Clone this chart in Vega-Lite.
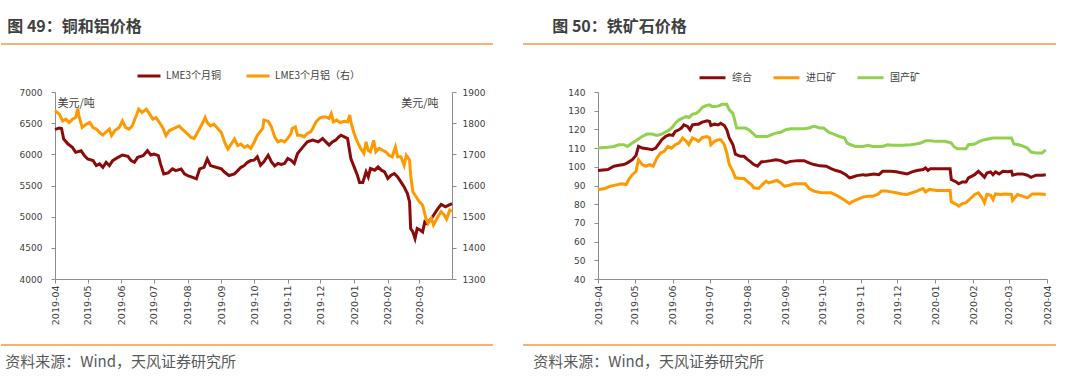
{
  "$schema": "https://vega.github.io/schema/vega-lite/v6.json",
  "background": "white",
  "padding": {"left": 0, "top": 19, "right": 0, "bottom": 0},
  "config": {
    "view": {"stroke": null},
    "font": "Noto Sans CJK SC",
    "axis": {"grid": false, "labelFont": "DejaVu Sans", "labelColor": "#404040", "domainColor": "#8c8c8c", "tickColor": "#8c8c8c", "domainWidth": 1, "tickWidth": 1, "tickSize": 4},
    "title": {"font": "Noto Sans CJK SC"}
  },
  "resolve": {"scale": {"color": "independent", "x": "independent", "y": "independent"}, "legend": {"color": "independent"}},
  "datasets": {
    "metals": [
      {"s":"LME3个月铜","d":"2019-04-01","v":6400},{"s":"LME3个月铜","d":"2019-04-05","v":6420},{"s":"LME3个月铜","d":"2019-04-07","v":6415},{"s":"LME3个月铜","d":"2019-04-09","v":6245},{"s":"LME3个月铜","d":"2019-04-13","v":6165},{"s":"LME3个月铜","d":"2019-04-17","v":6112},{"s":"LME3个月铜","d":"2019-04-20","v":6032},{"s":"LME3个月铜","d":"2019-04-25","v":6058},{"s":"LME3个月铜","d":"2019-04-28","v":5979},
      {"s":"LME3个月铜","d":"2019-05-01","v":5925},{"s":"LME3个月铜","d":"2019-05-06","v":5899},{"s":"LME3个月铜","d":"2019-05-09","v":5819},{"s":"LME3个月铜","d":"2019-05-12","v":5846},{"s":"LME3个月铜","d":"2019-05-15","v":5792},{"s":"LME3个月铜","d":"2019-05-18","v":5872},{"s":"LME3个月铜","d":"2019-05-21","v":5819},{"s":"LME3个月铜","d":"2019-05-24","v":5899},{"s":"LME3个月铜","d":"2019-05-29","v":5952},
      {"s":"LME3个月铜","d":"2019-06-02","v":5989},{"s":"LME3个月铜","d":"2019-06-07","v":5968},{"s":"LME3个月铜","d":"2019-06-10","v":5899},{"s":"LME3个月铜","d":"2019-06-13","v":5872},{"s":"LME3个月铜","d":"2019-06-16","v":5952},{"s":"LME3个月铜","d":"2019-06-21","v":5979},{"s":"LME3个月铜","d":"2019-06-25","v":6058},{"s":"LME3个月铜","d":"2019-06-28","v":5989},
      {"s":"LME3个月铜","d":"2019-07-01","v":6005},{"s":"LME3个月铜","d":"2019-07-05","v":5979},{"s":"LME3个月铜","d":"2019-07-07","v":5846},{"s":"LME3个月铜","d":"2019-07-10","v":5686},{"s":"LME3个月铜","d":"2019-07-14","v":5702},{"s":"LME3个月铜","d":"2019-07-18","v":5766},{"s":"LME3个月铜","d":"2019-07-21","v":5739},{"s":"LME3个月铜","d":"2019-07-26","v":5766},{"s":"LME3个月铜","d":"2019-07-29","v":5686},
      {"s":"LME3个月铜","d":"2019-08-01","v":5660},{"s":"LME3个月铜","d":"2019-08-05","v":5633},{"s":"LME3个月铜","d":"2019-08-09","v":5606},{"s":"LME3个月铜","d":"2019-08-12","v":5766},{"s":"LME3个月铜","d":"2019-08-16","v":5792},{"s":"LME3个月铜","d":"2019-08-19","v":5925},{"s":"LME3个月铜","d":"2019-08-22","v":5819},{"s":"LME3个月铜","d":"2019-08-27","v":5792},
      {"s":"LME3个月铜","d":"2019-09-01","v":5766},{"s":"LME3个月铜","d":"2019-09-04","v":5712},{"s":"LME3个月铜","d":"2019-09-08","v":5660},{"s":"LME3个月铜","d":"2019-09-13","v":5686},{"s":"LME3个月铜","d":"2019-09-16","v":5739},{"s":"LME3个月铜","d":"2019-09-19","v":5792},{"s":"LME3个月铜","d":"2019-09-22","v":5819},{"s":"LME3个月铜","d":"2019-09-25","v":5872},{"s":"LME3个月铜","d":"2019-09-28","v":5900},
      {"s":"LME3个月铜","d":"2019-10-01","v":5906},{"s":"LME3个月铜","d":"2019-10-04","v":5960},{"s":"LME3个月铜","d":"2019-10-07","v":5826},{"s":"LME3个月铜","d":"2019-10-10","v":5879},{"s":"LME3个月铜","d":"2019-10-14","v":5986},{"s":"LME3个月铜","d":"2019-10-17","v":5879},{"s":"LME3个月铜","d":"2019-10-20","v":5815},{"s":"LME3个月铜","d":"2019-10-23","v":5853},{"s":"LME3个月铜","d":"2019-10-26","v":5837},{"s":"LME3个月铜","d":"2019-10-29","v":5853},
      {"s":"LME3个月铜","d":"2019-11-01","v":5933},{"s":"LME3个月铜","d":"2019-11-04","v":5906},{"s":"LME3个月铜","d":"2019-11-07","v":5853},{"s":"LME3个月铜","d":"2019-11-10","v":6013},{"s":"LME3个月铜","d":"2019-11-15","v":6120},{"s":"LME3个月铜","d":"2019-11-19","v":6200},{"s":"LME3个月铜","d":"2019-11-24","v":6227},{"s":"LME3个月铜","d":"2019-11-29","v":6200},
      {"s":"LME3个月铜","d":"2019-12-03","v":6254},{"s":"LME3个月铜","d":"2019-12-06","v":6200},{"s":"LME3个月铜","d":"2019-12-09","v":6147},{"s":"LME3个月铜","d":"2019-12-12","v":6200},{"s":"LME3个月铜","d":"2019-12-15","v":6227},{"s":"LME3个月铜","d":"2019-12-18","v":6281},{"s":"LME3个月铜","d":"2019-12-20","v":6307},{"s":"LME3个月铜","d":"2019-12-23","v":6281},{"s":"LME3个月铜","d":"2019-12-26","v":6254},{"s":"LME3个月铜","d":"2019-12-29","v":5933},
      {"s":"LME3个月铜","d":"2020-01-01","v":5799},{"s":"LME3个月铜","d":"2020-01-04","v":5665},{"s":"LME3个月铜","d":"2020-01-06","v":5548},{"s":"LME3个月铜","d":"2020-01-09","v":5548},{"s":"LME3个月铜","d":"2020-01-12","v":5719},{"s":"LME3个月铜","d":"2020-01-14","v":5639},{"s":"LME3个月铜","d":"2020-01-16","v":5772},{"s":"LME3个月铜","d":"2020-01-20","v":5746},{"s":"LME3个月铜","d":"2020-01-23","v":5799},{"s":"LME3个月铜","d":"2020-01-26","v":5746},{"s":"LME3个月铜","d":"2020-01-29","v":5719},
      {"s":"LME3个月铜","d":"2020-02-01","v":5612},{"s":"LME3个月铜","d":"2020-02-04","v":5665},{"s":"LME3个月铜","d":"2020-02-07","v":5692},{"s":"LME3个月铜","d":"2020-02-10","v":5639},{"s":"LME3个月铜","d":"2020-02-13","v":5558},{"s":"LME3个月铜","d":"2020-02-16","v":5478},{"s":"LME3个月铜","d":"2020-02-19","v":5371},{"s":"LME3个月铜","d":"2020-02-21","v":5237},{"s":"LME3个月铜","d":"2020-02-22","v":4809},{"s":"LME3个月铜","d":"2020-02-24","v":4756},{"s":"LME3个月铜","d":"2020-02-26","v":4649},{"s":"LME3个月铜","d":"2020-02-28","v":4809},
      {"s":"LME3个月铜","d":"2020-03-02","v":4783},{"s":"LME3个月铜","d":"2020-03-04","v":4756},{"s":"LME3个月铜","d":"2020-03-06","v":4916},{"s":"LME3个月铜","d":"2020-03-08","v":4890},{"s":"LME3个月铜","d":"2020-03-12","v":4970},{"s":"LME3个月铜","d":"2020-03-14","v":5023},{"s":"LME3个月铜","d":"2020-03-18","v":5130},{"s":"LME3个月铜","d":"2020-03-21","v":5195},{"s":"LME3个月铜","d":"2020-03-25","v":5157},{"s":"LME3个月铜","d":"2020-03-28","v":5184},{"s":"LME3个月铜","d":"2020-03-31","v":5210},

      {"s":"LME3个月铝（右）","d":"2019-04-01","v":1840},{"s":"LME3个月铝（右）","d":"2019-04-05","v":1829},{"s":"LME3个月铝（右）","d":"2019-04-08","v":1807},{"s":"LME3个月铝（右）","d":"2019-04-11","v":1813},{"s":"LME3个月铝（右）","d":"2019-04-14","v":1802},{"s":"LME3个月铝（右）","d":"2019-04-17","v":1813},{"s":"LME3个月铝（右）","d":"2019-04-20","v":1818},{"s":"LME3个月铝（右）","d":"2019-04-22","v":1847},{"s":"LME3个月铝（右）","d":"2019-04-23","v":1823},{"s":"LME3个月铝（右）","d":"2019-04-26","v":1786},{"s":"LME3个月铝（右）","d":"2019-04-30","v":1797},
      {"s":"LME3个月铝（右）","d":"2019-05-03","v":1802},{"s":"LME3个月铝（右）","d":"2019-05-06","v":1786},{"s":"LME3个月铝（右）","d":"2019-05-09","v":1781},{"s":"LME3个月铝（右）","d":"2019-05-12","v":1770},{"s":"LME3个月铝（右）","d":"2019-05-15","v":1762},{"s":"LME3个月铝（右）","d":"2019-05-18","v":1772},{"s":"LME3个月铝（右）","d":"2019-05-21","v":1781},{"s":"LME3个月铝（右）","d":"2019-05-23","v":1760},{"s":"LME3个月铝（右）","d":"2019-05-26","v":1776},{"s":"LME3个月铝（右）","d":"2019-05-30","v":1786},
      {"s":"LME3个月铝（右）","d":"2019-06-02","v":1807},{"s":"LME3个月铝（右）","d":"2019-06-05","v":1786},{"s":"LME3个月铝（右）","d":"2019-06-08","v":1781},{"s":"LME3个月铝（右）","d":"2019-06-11","v":1791},{"s":"LME3个月铝（右）","d":"2019-06-14","v":1818},{"s":"LME3个月铝（右）","d":"2019-06-17","v":1845},{"s":"LME3个月铝（右）","d":"2019-06-20","v":1834},{"s":"LME3个月铝（右）","d":"2019-06-24","v":1845},{"s":"LME3个月铝（右）","d":"2019-06-27","v":1829},{"s":"LME3个月铝（右）","d":"2019-06-30","v":1813},
      {"s":"LME3个月铝（右）","d":"2019-07-03","v":1818},{"s":"LME3个月铝（右）","d":"2019-07-06","v":1802},{"s":"LME3个月铝（右）","d":"2019-07-09","v":1786},{"s":"LME3个月铝（右）","d":"2019-07-12","v":1760},{"s":"LME3个月铝（右）","d":"2019-07-15","v":1776},{"s":"LME3个月铝（右）","d":"2019-07-18","v":1781},{"s":"LME3个月铝（右）","d":"2019-07-21","v":1786},{"s":"LME3个月铝（右）","d":"2019-07-24","v":1791},{"s":"LME3个月铝（右）","d":"2019-07-27","v":1781},
      {"s":"LME3个月铝（右）","d":"2019-08-01","v":1765},{"s":"LME3个月铝（右）","d":"2019-08-04","v":1754},{"s":"LME3个月铝（右）","d":"2019-08-07","v":1751},{"s":"LME3个月铝（右）","d":"2019-08-10","v":1770},{"s":"LME3个月铝（右）","d":"2019-08-15","v":1802},{"s":"LME3个月铝（右）","d":"2019-08-17","v":1818},{"s":"LME3个月铝（右）","d":"2019-08-19","v":1802},{"s":"LME3个月铝（右）","d":"2019-08-22","v":1791},{"s":"LME3个月铝（右）","d":"2019-08-25","v":1797},{"s":"LME3个月铝（右）","d":"2019-08-29","v":1781},
      {"s":"LME3个月铝（右）","d":"2019-09-01","v":1770},{"s":"LME3个月铝（右）","d":"2019-09-04","v":1738},{"s":"LME3个月铝（右）","d":"2019-09-07","v":1717},{"s":"LME3个月铝（右）","d":"2019-09-10","v":1733},{"s":"LME3个月铝（右）","d":"2019-09-13","v":1749},{"s":"LME3个月铝（右）","d":"2019-09-16","v":1728},{"s":"LME3个月铝（右）","d":"2019-09-19","v":1733},{"s":"LME3个月铝（右）","d":"2019-09-22","v":1722},{"s":"LME3个月铝（右）","d":"2019-09-25","v":1728},{"s":"LME3个月铝（右）","d":"2019-09-28","v":1719},
      {"s":"LME3个月铝（右）","d":"2019-10-01","v":1738},{"s":"LME3个月铝（右）","d":"2019-10-04","v":1761},{"s":"LME3个月铝（右）","d":"2019-10-09","v":1783},{"s":"LME3个月铝（右）","d":"2019-10-10","v":1810},{"s":"LME3个月铝（右）","d":"2019-10-14","v":1806},{"s":"LME3个月铝（右）","d":"2019-10-17","v":1788},{"s":"LME3个月铝（右）","d":"2019-10-20","v":1756},{"s":"LME3个月铝（右）","d":"2019-10-23","v":1740},{"s":"LME3个月铝（右）","d":"2019-10-26","v":1745},{"s":"LME3个月铝（右）","d":"2019-10-29","v":1740},
      {"s":"LME3个月铝（右）","d":"2019-11-01","v":1751},{"s":"LME3个月铝（右）","d":"2019-11-04","v":1767},{"s":"LME3个月铝（右）","d":"2019-11-05","v":1783},{"s":"LME3个月铝（右）","d":"2019-11-08","v":1788},{"s":"LME3个月铝（右）","d":"2019-11-10","v":1761},{"s":"LME3个月铝（右）","d":"2019-11-13","v":1761},{"s":"LME3个月铝（右）","d":"2019-11-16","v":1756},{"s":"LME3个月铝（右）","d":"2019-11-19","v":1767},{"s":"LME3个月铝（右）","d":"2019-11-22","v":1772},{"s":"LME3个月铝（右）","d":"2019-11-24","v":1783},{"s":"LME3个月铝（右）","d":"2019-11-27","v":1804},{"s":"LME3个月铝（右）","d":"2019-11-30","v":1815},
      {"s":"LME3个月铝（右）","d":"2019-12-03","v":1820},{"s":"LME3个月铝（右）","d":"2019-12-06","v":1820},{"s":"LME3个月铝（右）","d":"2019-12-09","v":1815},{"s":"LME3个月铝（右）","d":"2019-12-11","v":1831},{"s":"LME3个月铝（右）","d":"2019-12-13","v":1804},{"s":"LME3个月铝（右）","d":"2019-12-16","v":1810},{"s":"LME3个月铝（右）","d":"2019-12-19","v":1802},{"s":"LME3个月铝（右）","d":"2019-12-23","v":1806},{"s":"LME3个月铝（右）","d":"2019-12-26","v":1804},{"s":"LME3个月铝（右）","d":"2019-12-28","v":1826},{"s":"LME3个月铝（右）","d":"2019-12-29","v":1804},
      {"s":"LME3个月铝（右）","d":"2020-01-01","v":1767},{"s":"LME3个月铝（右）","d":"2020-01-04","v":1740},{"s":"LME3个月铝（右）","d":"2020-01-07","v":1719},{"s":"LME3个月铝（右）","d":"2020-01-10","v":1703},{"s":"LME3个月铝（右）","d":"2020-01-12","v":1740},{"s":"LME3个月铝（右）","d":"2020-01-14","v":1713},{"s":"LME3个月铝（右）","d":"2020-01-16","v":1708},{"s":"LME3个月铝（右）","d":"2020-01-19","v":1745},{"s":"LME3个月铝（右）","d":"2020-01-21","v":1708},{"s":"LME3个月铝（右）","d":"2020-01-24","v":1719},{"s":"LME3个月铝（右）","d":"2020-01-27","v":1713},{"s":"LME3个月铝（右）","d":"2020-01-30","v":1708},
      {"s":"LME3个月铝（右）","d":"2020-02-02","v":1697},{"s":"LME3个月铝（右）","d":"2020-02-05","v":1692},{"s":"LME3个月铝（右）","d":"2020-02-08","v":1724},{"s":"LME3个月铝（右）","d":"2020-02-10","v":1692},{"s":"LME3个月铝（右）","d":"2020-02-13","v":1692},{"s":"LME3个月铝（右）","d":"2020-02-16","v":1665},{"s":"LME3个月铝（右）","d":"2020-02-18","v":1697},{"s":"LME3个月铝（右）","d":"2020-02-21","v":1681},{"s":"LME3个月铝（右）","d":"2020-02-22","v":1633},{"s":"LME3个月铝（右）","d":"2020-02-24","v":1580},{"s":"LME3个月铝（右）","d":"2020-02-27","v":1564},
      {"s":"LME3个月铝（右）","d":"2020-03-01","v":1548},{"s":"LME3个月铝（右）","d":"2020-03-04","v":1537},{"s":"LME3个月铝（右）","d":"2020-03-07","v":1494},{"s":"LME3个月铝（右）","d":"2020-03-09","v":1478},{"s":"LME3个月铝（右）","d":"2020-03-12","v":1494},{"s":"LME3个月铝（右）","d":"2020-03-14","v":1473},{"s":"LME3个月铝（右）","d":"2020-03-18","v":1499},{"s":"LME3个月铝（右）","d":"2020-03-21","v":1516},{"s":"LME3个月铝（右）","d":"2020-03-24","v":1505},{"s":"LME3个月铝（右）","d":"2020-03-26","v":1492},{"s":"LME3个月铝（右）","d":"2020-03-29","v":1521},{"s":"LME3个月铝（右）","d":"2020-03-31","v":1518}
    ],
    "ore": [
      {"s":"综合","d":"2019-04-01","v":98.0},{"s":"综合","d":"2019-04-09","v":98.5},{"s":"综合","d":"2019-04-14","v":100.3},{"s":"综合","d":"2019-04-18","v":100.8},{"s":"综合","d":"2019-04-22","v":101.2},{"s":"综合","d":"2019-04-25","v":102.1},{"s":"综合","d":"2019-04-29","v":103.8},{"s":"综合","d":"2019-05-02","v":106.1},{"s":"综合","d":"2019-05-04","v":110.9},{"s":"综合","d":"2019-05-07","v":110.0},{"s":"综合","d":"2019-05-11","v":109.7},{"s":"综合","d":"2019-05-15","v":109.1},{"s":"综合","d":"2019-05-18","v":110.0},{"s":"综合","d":"2019-05-21","v":112.7},{"s":"综合","d":"2019-05-23","v":114.5},{"s":"综合","d":"2019-05-26","v":116.2},{"s":"综合","d":"2019-05-29","v":117.1},
      {"s":"综合","d":"2019-06-01","v":116.8},{"s":"综合","d":"2019-06-03","v":118.9},{"s":"综合","d":"2019-06-06","v":119.8},{"s":"综合","d":"2019-06-08","v":120.7},{"s":"综合","d":"2019-06-10","v":122.4},{"s":"综合","d":"2019-06-13","v":121.6},{"s":"综合","d":"2019-06-15","v":119.8},{"s":"综合","d":"2019-06-17","v":122.4},{"s":"综合","d":"2019-06-20","v":122.8},{"s":"综合","d":"2019-06-22","v":122.8},{"s":"综合","d":"2019-06-25","v":123.9},{"s":"综合","d":"2019-06-29","v":124.6},
      {"s":"综合","d":"2019-07-01","v":124.2},{"s":"综合","d":"2019-07-02","v":122.1},{"s":"综合","d":"2019-07-05","v":122.8},{"s":"综合","d":"2019-07-08","v":122.4},{"s":"综合","d":"2019-07-10","v":123.3},{"s":"综合","d":"2019-07-13","v":122.1},{"s":"综合","d":"2019-07-15","v":119.8},{"s":"综合","d":"2019-07-17","v":115.4},{"s":"综合","d":"2019-07-20","v":111.8},{"s":"综合","d":"2019-07-22","v":106.8},{"s":"综合","d":"2019-07-26","v":105.6},{"s":"综合","d":"2019-07-29","v":105.6},
      {"s":"综合","d":"2019-08-01","v":103.8},{"s":"综合","d":"2019-08-03","v":102.9},{"s":"综合","d":"2019-08-06","v":101.2},{"s":"综合","d":"2019-08-09","v":100.3},{"s":"综合","d":"2019-08-12","v":102.6},{"s":"综合","d":"2019-08-16","v":102.9},{"s":"综合","d":"2019-08-20","v":103.3},{"s":"综合","d":"2019-08-24","v":103.8},{"s":"综合","d":"2019-08-28","v":103.3},
      {"s":"综合","d":"2019-09-01","v":102.1},{"s":"综合","d":"2019-09-05","v":102.9},{"s":"综合","d":"2019-09-11","v":103.3},{"s":"综合","d":"2019-09-16","v":103.3},{"s":"综合","d":"2019-09-20","v":102.1},{"s":"综合","d":"2019-09-24","v":101.2},{"s":"综合","d":"2019-09-29","v":100.5},
      {"s":"综合","d":"2019-10-04","v":100.3},{"s":"综合","d":"2019-10-08","v":99.0},{"s":"综合","d":"2019-10-12","v":98.0},{"s":"综合","d":"2019-10-16","v":97.3},{"s":"综合","d":"2019-10-20","v":95.8},{"s":"综合","d":"2019-10-23","v":94.1},{"s":"综合","d":"2019-10-25","v":94.4},{"s":"综合","d":"2019-10-29","v":95.3},
      {"s":"综合","d":"2019-11-03","v":95.8},{"s":"综合","d":"2019-11-05","v":95.5},{"s":"综合","d":"2019-11-08","v":95.8},{"s":"综合","d":"2019-11-12","v":96.2},{"s":"综合","d":"2019-11-16","v":95.8},{"s":"综合","d":"2019-11-19","v":97.6},{"s":"综合","d":"2019-11-26","v":97.6},{"s":"综合","d":"2019-11-30","v":97.3},
      {"s":"综合","d":"2019-12-05","v":96.7},{"s":"综合","d":"2019-12-09","v":96.2},{"s":"综合","d":"2019-12-13","v":97.3},{"s":"综合","d":"2019-12-17","v":98.0},{"s":"综合","d":"2019-12-22","v":98.5},{"s":"综合","d":"2019-12-24","v":99.4},{"s":"综合","d":"2019-12-26","v":98.0},{"s":"综合","d":"2019-12-28","v":99.0},
      {"s":"综合","d":"2020-01-04","v":99.0},{"s":"综合","d":"2020-01-13","v":99.0},{"s":"综合","d":"2020-01-14","v":93.2},{"s":"综合","d":"2020-01-18","v":91.9},{"s":"综合","d":"2020-01-20","v":90.9},{"s":"综合","d":"2020-01-23","v":91.9},{"s":"综合","d":"2020-01-26","v":91.9},{"s":"综合","d":"2020-01-28","v":94.1},
      {"s":"综合","d":"2020-02-02","v":95.8},{"s":"综合","d":"2020-02-05","v":97.6},{"s":"综合","d":"2020-02-08","v":95.8},{"s":"综合","d":"2020-02-10","v":94.4},{"s":"综合","d":"2020-02-12","v":96.7},{"s":"综合","d":"2020-02-15","v":97.3},{"s":"综合","d":"2020-02-17","v":95.8},{"s":"综合","d":"2020-02-19","v":97.3},{"s":"综合","d":"2020-02-22","v":96.2},{"s":"综合","d":"2020-02-25","v":97.6},{"s":"综合","d":"2020-02-29","v":97.3},
      {"s":"综合","d":"2020-03-03","v":97.6},{"s":"综合","d":"2020-03-04","v":95.5},{"s":"综合","d":"2020-03-08","v":96.2},{"s":"综合","d":"2020-03-12","v":96.2},{"s":"综合","d":"2020-03-16","v":95.5},{"s":"综合","d":"2020-03-19","v":94.4},{"s":"综合","d":"2020-03-23","v":95.5},{"s":"综合","d":"2020-03-28","v":95.5},{"s":"综合","d":"2020-03-31","v":95.8},

      {"s":"进口矿","d":"2019-04-01","v":87.9},{"s":"进口矿","d":"2019-04-06","v":88.2},{"s":"进口矿","d":"2019-04-11","v":89.6},{"s":"进口矿","d":"2019-04-15","v":90.2},{"s":"进口矿","d":"2019-04-20","v":90.9},{"s":"进口矿","d":"2019-04-24","v":90.5},{"s":"进口矿","d":"2019-04-26","v":93.2},{"s":"进口矿","d":"2019-04-29","v":95.8},{"s":"进口矿","d":"2019-05-02","v":97.6},{"s":"进口矿","d":"2019-05-04","v":103.8},{"s":"进口矿","d":"2019-05-07","v":101.2},{"s":"进口矿","d":"2019-05-10","v":100.3},{"s":"进口矿","d":"2019-05-13","v":101.2},{"s":"进口矿","d":"2019-05-16","v":100.3},{"s":"进口矿","d":"2019-05-19","v":104.7},{"s":"进口矿","d":"2019-05-22","v":107.4},{"s":"进口矿","d":"2019-05-25","v":108.3},{"s":"进口矿","d":"2019-05-28","v":110.9},{"s":"进口矿","d":"2019-05-31","v":110.0},
      {"s":"进口矿","d":"2019-06-03","v":111.8},{"s":"进口矿","d":"2019-06-06","v":112.7},{"s":"进口矿","d":"2019-06-09","v":115.4},{"s":"进口矿","d":"2019-06-12","v":113.6},{"s":"进口矿","d":"2019-06-14","v":111.8},{"s":"进口矿","d":"2019-06-17","v":115.4},{"s":"进口矿","d":"2019-06-20","v":114.5},{"s":"进口矿","d":"2019-06-22","v":113.6},{"s":"进口矿","d":"2019-06-25","v":115.7},{"s":"进口矿","d":"2019-06-29","v":116.2},
      {"s":"进口矿","d":"2019-07-01","v":115.4},{"s":"进口矿","d":"2019-07-02","v":111.8},{"s":"进口矿","d":"2019-07-05","v":113.6},{"s":"进口矿","d":"2019-07-08","v":114.5},{"s":"进口矿","d":"2019-07-10","v":114.5},{"s":"进口矿","d":"2019-07-13","v":111.8},{"s":"进口矿","d":"2019-07-15","v":107.4},{"s":"进口矿","d":"2019-07-17","v":101.2},{"s":"进口矿","d":"2019-07-20","v":97.6},{"s":"进口矿","d":"2019-07-22","v":94.1},{"s":"进口矿","d":"2019-07-26","v":93.7},{"s":"进口矿","d":"2019-07-29","v":93.7},
      {"s":"进口矿","d":"2019-08-01","v":92.0},{"s":"进口矿","d":"2019-08-04","v":90.5},{"s":"进口矿","d":"2019-08-06","v":88.8},{"s":"进口矿","d":"2019-08-10","v":88.4},{"s":"进口矿","d":"2019-08-13","v":90.5},{"s":"进口矿","d":"2019-08-16","v":92.3},{"s":"进口矿","d":"2019-08-18","v":91.4},{"s":"进口矿","d":"2019-08-21","v":92.0},{"s":"进口矿","d":"2019-08-25","v":92.7},{"s":"进口矿","d":"2019-08-28","v":91.4},{"s":"进口矿","d":"2019-08-31","v":89.6},
      {"s":"进口矿","d":"2019-09-04","v":90.2},{"s":"进口矿","d":"2019-09-08","v":90.9},{"s":"进口矿","d":"2019-09-13","v":90.9},{"s":"进口矿","d":"2019-09-17","v":90.9},{"s":"进口矿","d":"2019-09-20","v":88.4},{"s":"进口矿","d":"2019-09-24","v":87.0},{"s":"进口矿","d":"2019-09-29","v":86.3},
      {"s":"进口矿","d":"2019-10-04","v":86.1},{"s":"进口矿","d":"2019-10-08","v":86.1},{"s":"进口矿","d":"2019-10-12","v":84.9},{"s":"进口矿","d":"2019-10-16","v":83.4},{"s":"进口矿","d":"2019-10-20","v":81.7},{"s":"进口矿","d":"2019-10-23","v":80.3},{"s":"进口矿","d":"2019-10-25","v":81.3},{"s":"进口矿","d":"2019-10-29","v":82.5},
      {"s":"进口矿","d":"2019-11-03","v":83.8},{"s":"进口矿","d":"2019-11-07","v":84.3},{"s":"进口矿","d":"2019-11-11","v":84.3},{"s":"进口矿","d":"2019-11-15","v":85.2},{"s":"进口矿","d":"2019-11-18","v":87.0},{"s":"进口矿","d":"2019-11-22","v":87.0},{"s":"进口矿","d":"2019-11-26","v":86.6},{"s":"进口矿","d":"2019-11-30","v":86.1},
      {"s":"进口矿","d":"2019-12-05","v":85.5},{"s":"进口矿","d":"2019-12-09","v":85.2},{"s":"进口矿","d":"2019-12-13","v":86.1},{"s":"进口矿","d":"2019-12-17","v":87.0},{"s":"进口矿","d":"2019-12-20","v":87.9},{"s":"进口矿","d":"2019-12-22","v":88.4},{"s":"进口矿","d":"2019-12-24","v":86.6},{"s":"进口矿","d":"2019-12-27","v":87.9},
      {"s":"进口矿","d":"2020-01-02","v":87.3},{"s":"进口矿","d":"2020-01-13","v":87.3},{"s":"进口矿","d":"2020-01-14","v":81.3},{"s":"进口矿","d":"2020-01-18","v":79.9},{"s":"进口矿","d":"2020-01-20","v":79.0},{"s":"进口矿","d":"2020-01-23","v":80.3},{"s":"进口矿","d":"2020-01-26","v":80.8},{"s":"进口矿","d":"2020-01-28","v":82.0},
      {"s":"进口矿","d":"2020-02-02","v":85.2},{"s":"进口矿","d":"2020-02-05","v":86.1},{"s":"进口矿","d":"2020-02-08","v":83.4},{"s":"进口矿","d":"2020-02-10","v":80.8},{"s":"进口矿","d":"2020-02-12","v":85.2},{"s":"进口矿","d":"2020-02-15","v":84.9},{"s":"进口矿","d":"2020-02-17","v":82.5},{"s":"进口矿","d":"2020-02-19","v":85.5},{"s":"进口矿","d":"2020-02-23","v":85.2},{"s":"进口矿","d":"2020-02-27","v":85.5},
      {"s":"进口矿","d":"2020-03-03","v":85.2},{"s":"进口矿","d":"2020-03-04","v":82.0},{"s":"进口矿","d":"2020-03-08","v":85.2},{"s":"进口矿","d":"2020-03-12","v":84.3},{"s":"进口矿","d":"2020-03-16","v":83.4},{"s":"进口矿","d":"2020-03-20","v":85.5},{"s":"进口矿","d":"2020-03-26","v":85.5},{"s":"进口矿","d":"2020-03-31","v":85.2},

      {"s":"国产矿","d":"2019-04-01","v":110.0},{"s":"国产矿","d":"2019-04-09","v":110.4},{"s":"国产矿","d":"2019-04-14","v":110.9},{"s":"国产矿","d":"2019-04-18","v":111.8},{"s":"国产矿","d":"2019-04-22","v":111.8},{"s":"国产矿","d":"2019-04-25","v":110.9},{"s":"国产矿","d":"2019-04-29","v":112.7},{"s":"国产矿","d":"2019-05-03","v":114.5},{"s":"国产矿","d":"2019-05-07","v":116.2},{"s":"国产矿","d":"2019-05-11","v":117.5},{"s":"国产矿","d":"2019-05-15","v":117.5},{"s":"国产矿","d":"2019-05-19","v":116.8},{"s":"国产矿","d":"2019-05-23","v":117.5},{"s":"国产矿","d":"2019-05-28","v":119.3},{"s":"国产矿","d":"2019-05-31","v":120.7},
      {"s":"国产矿","d":"2019-06-03","v":123.3},{"s":"国产矿","d":"2019-06-06","v":125.1},{"s":"国产矿","d":"2019-06-09","v":126.0},{"s":"国产矿","d":"2019-06-12","v":126.9},{"s":"国产矿","d":"2019-06-14","v":126.3},{"s":"国产矿","d":"2019-06-17","v":128.1},{"s":"国产矿","d":"2019-06-20","v":128.6},{"s":"国产矿","d":"2019-06-22","v":129.5},{"s":"国产矿","d":"2019-06-25","v":131.7},{"s":"国产矿","d":"2019-06-28","v":132.7},
      {"s":"国产矿","d":"2019-07-01","v":133.1},{"s":"国产矿","d":"2019-07-03","v":132.2},{"s":"国产矿","d":"2019-07-06","v":132.2},{"s":"国产矿","d":"2019-07-09","v":132.7},{"s":"国产矿","d":"2019-07-11","v":133.4},{"s":"国产矿","d":"2019-07-15","v":133.4},{"s":"国产矿","d":"2019-07-17","v":130.4},{"s":"国产矿","d":"2019-07-20","v":128.6},{"s":"国产矿","d":"2019-07-21","v":126.0},{"s":"国产矿","d":"2019-07-23","v":120.7},{"s":"国产矿","d":"2019-07-26","v":120.7},{"s":"国产矿","d":"2019-07-30","v":120.7},
      {"s":"国产矿","d":"2019-08-02","v":119.8},{"s":"国产矿","d":"2019-08-05","v":118.0},{"s":"国产矿","d":"2019-08-08","v":116.2},{"s":"国产矿","d":"2019-08-12","v":116.2},{"s":"国产矿","d":"2019-08-17","v":116.2},{"s":"国产矿","d":"2019-08-20","v":117.1},{"s":"国产矿","d":"2019-08-24","v":118.0},{"s":"国产矿","d":"2019-08-28","v":118.5},
      {"s":"国产矿","d":"2019-09-01","v":119.8},{"s":"国产矿","d":"2019-09-05","v":120.3},{"s":"国产矿","d":"2019-09-11","v":120.3},{"s":"国产矿","d":"2019-09-16","v":120.3},{"s":"国产矿","d":"2019-09-20","v":120.7},{"s":"国产矿","d":"2019-09-23","v":121.5},{"s":"国产矿","d":"2019-09-25","v":121.5},{"s":"国产矿","d":"2019-09-29","v":120.7},
      {"s":"国产矿","d":"2019-10-02","v":120.7},{"s":"国产矿","d":"2019-10-06","v":118.5},{"s":"国产矿","d":"2019-10-10","v":117.5},{"s":"国产矿","d":"2019-10-15","v":116.2},{"s":"国产矿","d":"2019-10-19","v":115.4},{"s":"国产矿","d":"2019-10-21","v":112.7},{"s":"国产矿","d":"2019-10-24","v":111.8},{"s":"国产矿","d":"2019-10-28","v":110.9},
      {"s":"国产矿","d":"2019-11-03","v":110.9},{"s":"国产矿","d":"2019-11-07","v":111.5},{"s":"国产矿","d":"2019-11-11","v":110.9},{"s":"国产矿","d":"2019-11-19","v":110.9},{"s":"国产矿","d":"2019-11-23","v":111.8},{"s":"国产矿","d":"2019-11-27","v":111.5},
      {"s":"国产矿","d":"2019-12-05","v":111.5},{"s":"国产矿","d":"2019-12-12","v":111.8},{"s":"国产矿","d":"2019-12-16","v":112.2},{"s":"国产矿","d":"2019-12-20","v":112.7},{"s":"国产矿","d":"2019-12-24","v":113.9},{"s":"国产矿","d":"2019-12-28","v":113.9},
      {"s":"国产矿","d":"2020-01-01","v":113.6},{"s":"国产矿","d":"2020-01-09","v":113.6},{"s":"国产矿","d":"2020-01-14","v":112.7},{"s":"国产矿","d":"2020-01-16","v":110.9},{"s":"国产矿","d":"2020-01-19","v":109.7},{"s":"国产矿","d":"2020-01-26","v":109.7},{"s":"国产矿","d":"2020-01-28","v":111.8},
      {"s":"国产矿","d":"2020-02-02","v":112.2},{"s":"国产矿","d":"2020-02-06","v":113.6},{"s":"国产矿","d":"2020-02-10","v":114.5},{"s":"国产矿","d":"2020-02-17","v":115.4},{"s":"国产矿","d":"2020-02-25","v":115.4},
      {"s":"国产矿","d":"2020-03-03","v":115.4},{"s":"国产矿","d":"2020-03-05","v":112.2},{"s":"国产矿","d":"2020-03-09","v":111.8},{"s":"国产矿","d":"2020-03-13","v":110.9},{"s":"国产矿","d":"2020-03-16","v":110.0},{"s":"国产矿","d":"2020-03-19","v":107.9},{"s":"国产矿","d":"2020-03-23","v":107.4},{"s":"国产矿","d":"2020-03-28","v":107.4},{"s":"国产矿","d":"2020-03-31","v":109.1}
    ]
  },
  "spacing": 28,
  "hconcat": [
    {
      "spacing": 16,
      "resolve": {"scale": {"color": "independent"}, "legend": {"color": "independent"}},
      "vconcat": [
        {
          "width": 492, "height": 3,
          "title": {"text": "图 49：铜和铝价格", "anchor": "start", "fontSize": 16, "fontWeight": "bold", "color": "#404040", "offset": 8, "dx": 7},
          "data": {"values": [{"v": 1}]},
          "mark": {"type": "rule", "color": "#F79646", "strokeWidth": 1.5},
          "encoding": {"y": {"field": "v", "type": "quantitative", "scale": {"domain": [0, 1]}, "axis": null}}
        },
        {
          "spacing": 0,
          "resolve": {"scale": {"color": "independent"}, "legend": {"color": "independent"}},
          "hconcat": [
            {"width": 9, "height": 187, "data": {"values": []}, "mark": "point", "encoding": {}},
            {
              "width": 397, "height": 187,
              "data": {"name": "metals"},
              "encoding": {
                "x": {"field": "d", "type": "temporal",
                  "scale": {"type": "utc", "nice": false, "domain": [{"year": 2019, "month": 4, "date": 1, "utc": true}, {"year": 2020, "month": 3, "date": 31, "utc": true}]},
                  "axis": {"title": null, "format": "%Y-%m", "tickCount": {"interval": "month", "step": 1}, "labelAngle": -90, "labelAlign": "right", "labelBaseline": "middle", "labelFontSize": 9.5, "labelPadding": 2, "labelOverlap": false, "labelFlush": false, "labelBound": false}}
              },
              "layer": [
                {
                  "transform": [{"filter": "datum.s === 'LME3个月铜'"}],
                  "mark": {"type": "line", "strokeWidth": 3},
                  "encoding": {
                    "y": {"field": "v", "type": "quantitative", "scale": {"domain": [4000, 7000], "nice": false, "zero": false},
                      "axis": {"orient": "left", "values": [4000, 4500, 5000, 5500, 6000, 6500, 7000], "format": "d", "labelFontSize": 9, "labelPadding": 9, "minExtent": 45, "title": "美元/吨", "titleAngle": 0, "titleX": 2, "titleY": 11, "titleAlign": "left", "titleBaseline": "middle", "titleFontSize": 11, "titleFontWeight": "normal", "titleColor": "#404040"}},
                    "color": {"field": "s", "type": "nominal", "scale": {"domain": ["LME3个月铜", "LME3个月铝（右）"], "range": ["#8B0A0A", "#FF9900"]},
                      "legend": {"orient": "none", "legendX": 81, "legendY": -29, "direction": "horizontal", "columns": 2, "title": null, "symbolType": "stroke", "symbolSize": 529, "symbolStrokeWidth": 3, "labelFontSize": 10, "labelColor": "#404040", "labelFont": "Noto Sans CJK SC", "columnPadding": 19, "labelOffset": 4, "padding": 0}}
                  }
                },
                {
                  "transform": [{"filter": "datum.s === 'LME3个月铝（右）'"}],
                  "mark": {"type": "line", "strokeWidth": 3},
                  "encoding": {
                    "y": {"field": "v", "type": "quantitative", "scale": {"domain": [1300, 1900], "nice": false, "zero": false},
                      "axis": {"orient": "right", "values": [1300, 1400, 1500, 1600, 1700, 1800, 1900], "format": "d", "labelFontSize": 9, "labelPadding": 6, "title": "美元/吨", "titleAngle": 0, "titleX": -14, "titleY": 11, "titleAlign": "right", "titleBaseline": "middle", "titleFontSize": 11, "titleFontWeight": "normal", "titleColor": "#404040"}},
                    "color": {"field": "s", "type": "nominal"}
                  }
                }
              ],
              "resolve": {"scale": {"y": "independent"}}
            }
          ]
        },
        {
          "width": 492, "height": 4,
          "title": {"text": "资料来源：Wind，天风证券研究所", "orient": "bottom", "anchor": "start", "fontSize": 15, "fontWeight": "normal", "color": "#595959", "offset": 9, "dx": 5},
          "data": {"values": [{"v": 0}]},
          "mark": {"type": "rule", "color": "#F79646", "strokeWidth": 1.5},
          "encoding": {"y": {"field": "v", "type": "quantitative", "scale": {"domain": [0, 1]}, "axis": null}}
        }
      ]
    },
    {
      "spacing": 16,
      "resolve": {"scale": {"color": "independent"}, "legend": {"color": "independent"}},
      "vconcat": [
        {
          "width": 533, "height": 3,
          "title": {"text": "图 50：铁矿石价格", "anchor": "start", "fontSize": 16, "fontWeight": "bold", "color": "#404040", "offset": 8, "dx": 30},
          "data": {"values": [{"v": 1}]},
          "mark": {"type": "rule", "color": "#F79646", "strokeWidth": 1.5},
          "encoding": {"y": {"field": "v", "type": "quantitative", "scale": {"domain": [0, 1]}, "axis": null}}
        },
        {
          "spacing": 0,
          "resolve": {"scale": {"color": "independent"}, "legend": {"color": "independent"}},
          "hconcat": [
            {"width": 30, "height": 187, "data": {"values": []}, "mark": "point", "encoding": {}},
            {
              "width": 449, "height": 187,
              "data": {"name": "ore"},
              "mark": {"type": "line", "strokeWidth": 3},
              "encoding": {
                "x": {"field": "d", "type": "temporal",
                  "scale": {"type": "utc", "nice": false, "domain": [{"year": 2019, "month": 4, "date": 1, "utc": true}, {"year": 2020, "month": 4, "date": 1, "utc": true}]},
                  "axis": {"title": null, "format": "%Y-%m", "tickCount": {"interval": "month", "step": 1}, "labelAngle": -90, "labelAlign": "right", "labelBaseline": "middle", "labelFontSize": 9.5, "labelPadding": 2, "labelOverlap": false, "labelFlush": false, "labelBound": false}},
                "y": {"field": "v", "type": "quantitative", "scale": {"domain": [40, 140], "nice": false, "zero": false},
                  "axis": {"values": [40, 50, 60, 70, 80, 90, 100, 110, 120, 130, 140], "labelFontSize": 9, "labelPadding": 9, "minExtent": 45, "title": null}},
                "color": {"field": "s", "type": "nominal", "scale": {"domain": ["综合", "进口矿", "国产矿"], "range": ["#8B0A0A", "#FF9900", "#92D050"]},
                  "legend": {"orient": "none", "legendX": 100, "legendY": -29, "direction": "horizontal", "columns": 3, "title": null, "symbolType": "stroke", "symbolSize": 676, "symbolStrokeWidth": 3, "labelFontSize": 10, "labelColor": "#404040", "labelFont": "Noto Sans CJK SC", "columnPadding": 15, "labelOffset": 5, "padding": 0}}
              }
            }
          ]
        },
        {
          "width": 533, "height": 4,
          "title": {"text": "资料来源：Wind，天风证券研究所", "orient": "bottom", "anchor": "start", "fontSize": 15, "fontWeight": "normal", "color": "#595959", "offset": 9, "dx": 11},
          "data": {"values": [{"v": 0}]},
          "mark": {"type": "rule", "color": "#F79646", "strokeWidth": 1.5},
          "encoding": {"y": {"field": "v", "type": "quantitative", "scale": {"domain": [0, 1]}, "axis": null}}
        }
      ]
    }
  ]
}
